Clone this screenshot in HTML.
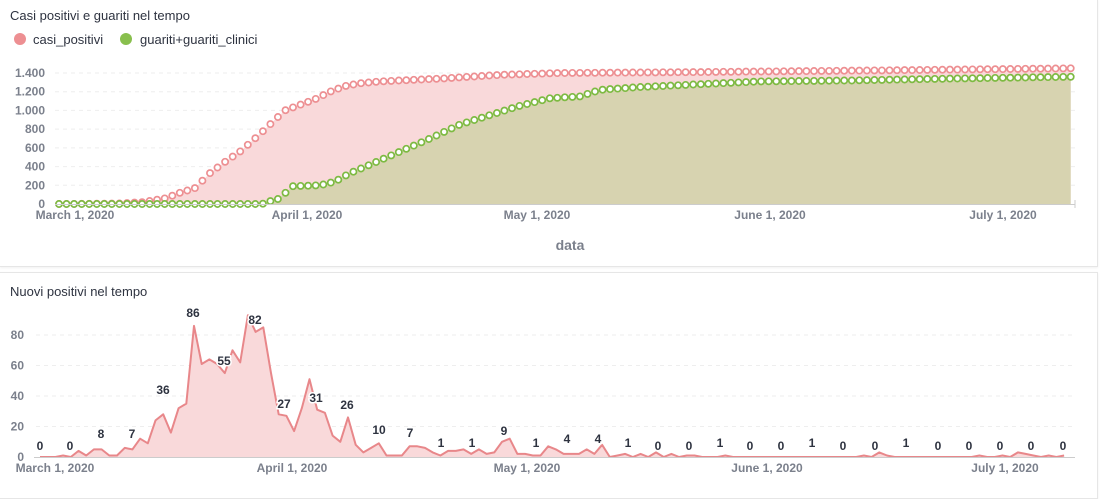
<!DOCTYPE html>
<html><head><meta charset="utf-8"><style>
body{margin:0;background:#fff;width:1100px;height:491px;overflow:hidden;font-family:"Liberation Sans",sans-serif}
.card{position:absolute;left:0;width:1097px;background:#fff;border:1px solid #e6e6e6;border-left:none;box-shadow:0 1px 2px rgba(0,0,0,0.06)}
</style></head><body>
<div class="card" style="top:-1px;height:266px"></div>
<div class="card" style="top:272px;height:225px"></div>
<svg id="s" width="1100" height="491" style="position:absolute;left:0;top:0" font-family="Liberation Sans, sans-serif"></svg>
<script>
const s=document.getElementById('s');let h='';
h+='<text x="10" y="20" font-size="13" fill="#2e3340">Casi positivi e guariti nel tempo</text>';
h+='<circle cx="20" cy="39" r="6" fill="#ED8F92"/><text x="33" y="44" font-size="13" fill="#2e3340">casi_positivi</text>';
h+='<circle cx="126" cy="39" r="6" fill="#88BF4D"/><text x="140" y="44" font-size="13" fill="#2e3340">guariti+guariti_clinici</text>';
const b1=204,k1=131/1400;
for(let v=0;v<=1400;v+=200){const y=b1-v*k1;
 if(v>0)h+=`<line x1="55" x2="1075" y1="${y}" y2="${y}" stroke="#eee" stroke-dasharray="4 4"/>`;
 h+=`<text x="45" y="${y+4}" font-size="12" font-weight="bold" fill="#7b808c" text-anchor="end">${v.toLocaleString('de-DE')}</text>`;}
function interp(kp,x){if(x<=kp[0][0])return kp[0][1];for(let i=1;i<kp.length;i++){if(x<=kp[i][0]){const[a,b]=kp[i-1],[c,d]=kp[i];return b+(d-b)*(x-a)/(c-a);}}return kp[kp.length-1][1];}
const P=[[59,0],[120,5],[143,20],[165,60],[180,120],[195,170],[210,330],[225,450],[240,560],[255,700],[270,850],[285,1000],[300,1060],[315,1120],[330,1200],[345,1260],[360,1290],[380,1310],[440,1340],[500,1380],[560,1400],[700,1410],[900,1430],[1072,1450]];
const G=[[59,0],[262,0],[270,30],[280,60],[292,190],[320,200],[335,240],[350,330],[370,420],[400,560],[430,700],[460,850],[490,950],[520,1050],[550,1130],[580,1150],[600,1220],[640,1250],[700,1280],[760,1310],[850,1320],[950,1340],[1072,1360]];
function series(kp,fill,stroke){let pts=[];for(let i=0;i<=134;i++){const x=59+i*7.55;pts.push([x,b1-interp(kp,x)*k1]);}
 let d='M59,'+b1+' '+pts.map(p=>'L'+p[0].toFixed(1)+','+p[1].toFixed(1)).join(' ')+' L'+pts[pts.length-1][0]+','+b1+'Z';
 let o=`<path d="${d}" fill="${fill}"/>`;return [o,pts.map(p=>`<circle cx="${p[0].toFixed(1)}" cy="${p[1].toFixed(1)}" r="3.1" fill="#fff" stroke="${stroke}" stroke-width="1.7"/>`).join('')];}
const sp=series(P,'#F9D9DA','#ED8F92'),sg=series(G,'#D7D3B0','#7DBA42');
h+=sp[0]+sg[0]+sp[1]+sg[1];
h+='<line x1="55" x2="1075" y1="204.5" y2="204.5" stroke="#ccc"/><line x1="1075" x2="1075" y1="200" y2="208" stroke="#ccc"/>';
[['March 1, 2020',75],['April 1, 2020',307],['May 1, 2020',537],['June 1, 2020',770],['July 1, 2020',1003]].forEach(([t,x])=>h+=`<text x="${x}" y="219" font-size="12" font-weight="bold" fill="#7b808c" text-anchor="middle">${t}</text>`);
h+='<text x="570" y="250" font-size="14" font-weight="bold" fill="#7b808c" text-anchor="middle">data</text>';
h+='<text x="10" y="296" font-size="13" fill="#2e3340">Nuovi positivi nel tempo</text>';
const b2=457,k2=1.525;
for(let v=0;v<=80;v+=20){const y=b2-v*k2;
 if(v>0)h+=`<line x1="36" x2="1075" y1="${y}" y2="${y}" stroke="#eee" stroke-dasharray="4 4"/>`;
 h+=`<text x="24" y="${y+4}" font-size="12" font-weight="bold" fill="#7b808c" text-anchor="end">${v}</text>`;}
let V=[0,0,0,1,0,4,1,5,5,1,1,6,5,12,9,24,28,16,32,35,86,61,64,61,55,70,62,93,82,85,55,28,27,17,32,51,31,29,14,10,26,8,3,6,9,1,1,1,7,7,6,3,1,4,4,5,2,5,2,3,10,12,2,2,1,1,7,5,2,2,2,5,2,8,0,1,2,0,2,0,3,0,2,0,1,1,0];
const extra=[0,0,1,0,0,0,0,0,0,0,0,0,0,0,0,0,0,0,0,0,1,0,3,1,0,0,0,0,0,0,0,0,0,0,0,1,0,0,1,0,0,0,1,0,1,0,0,0];
V=V.concat(extra);while(V.length<134)V.push(0);V=V.slice(0,134);V[127]=3;V[128]=2;V[129]=1;V[133]=1;
let pts=V.map((v,i)=>[40+i*7.7,b2-v*k2]);
let d='M40,'+b2+' '+pts.map(p=>'L'+p[0].toFixed(1)+','+p[1].toFixed(1)).join(' ')+' L'+pts[pts.length-1][0].toFixed(1)+','+b2+'Z';
h+=`<path d="${d}" fill="#F9D9DA"/>`;
h+=`<polyline points="${pts.map(p=>p[0].toFixed(1)+','+p[1].toFixed(1)).join(' ')}" fill="none" stroke="#E8878A" stroke-width="2" stroke-linejoin="round"/>`;
h+='<line x1="34" x2="1075" y1="457.5" y2="457.5" stroke="#ccc"/>';
[['0',40,450],['0',70,450],['8',101,438],['7',132,438],['36',163,394],['86',193,317],['55',224,365],['82',255,324],['27',284,408],['31',316,402],['26',347,409],['10',379,434],['7',410,437],['1',441,447],['1',472,447],['9',504,435],['1',536,447],['4',567,443],['4',598,443],['1',628,447],['0',658,450],['0',689,450],['1',720,447],['0',750,450],['0',781,450],['1',812,447],['0',843,450],['0',875,450],['1',906,447],['0',938,450],['0',969,450],['0',1000,450],['0',1031,450],['0',1063,450]].forEach(([t,x,y])=>h+=`<text x="${x}" y="${y}" font-size="12" font-weight="bold" fill="#2e3340" text-anchor="middle" stroke="#fff" stroke-width="3" paint-order="stroke">${t}</text>`);
[['March 1, 2020',55],['April 1, 2020',292],['May 1, 2020',527],['June 1, 2020',767],['July 1, 2020',1005]].forEach(([t,x])=>h+=`<text x="${x}" y="472" font-size="12" font-weight="bold" fill="#7b808c" text-anchor="middle">${t}</text>`);
s.innerHTML=h;
</script>
</body></html>
